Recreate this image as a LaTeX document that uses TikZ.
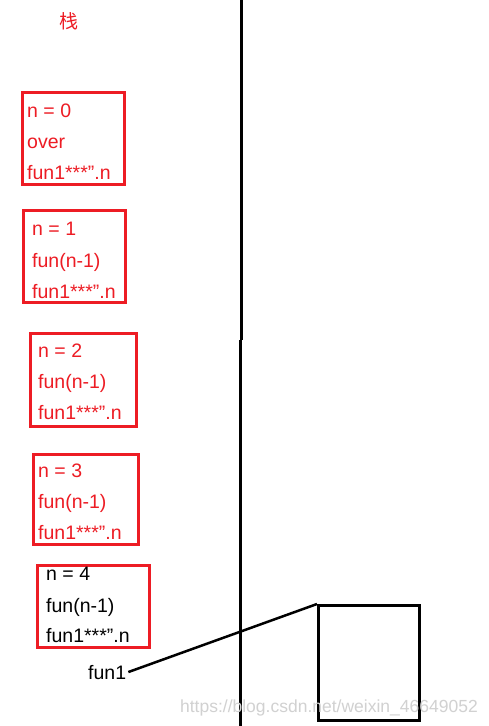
\documentclass[tikz,border=0pt]{standalone}
\usepackage{fontspec}
\setmainfont{Liberation Sans}
\newfontfamily\cjk{Noto Sans CJK SC}
\definecolor{pred}{HTML}{ED1C24}
\newcommand{\qq}{\symbol{"22}}
\begin{document}
\begin{tikzpicture}[x=1pt,y=-1pt,
  rbox/.style={draw=pred, line width=3pt, inner sep=0pt},
  txt/.style={anchor=base west, inner sep=0pt, font=\fontsize{19.5}{23}\selectfont},
  redtxt/.style={txt, text=pred},
  blk/.style={draw=black, line width=3pt}]
\useasboundingbox[fill=white] (0,0) rectangle (488,726);
% title
\node[text=pred, font=\cjk\fontsize{19}{22}\selectfont, inner sep=0pt] (title) at (69,21) {栈};
% vertical divider
\coordinate (v1) at (241.5,0);
\coordinate (v2) at (241.5,340);
\coordinate (v3) at (240.5,340);
\coordinate (v4) at (240.5,726);
\draw[line width=2.5pt] (v1) -- (v2);
\draw[line width=2.5pt] (v3) -- (v4);
% box 0
\node[rbox, minimum width=102pt, minimum height=92pt] (b0) at (73.5,138.5) {};
\node[redtxt] (t00) at (27,117) {n = 0};
\node[redtxt] (t01) at (27,148) {over};
\node[redtxt] (t02) at (27,179) {fun1***\qq.n};
% box 1
\node[rbox, minimum width=102pt, minimum height=92pt] (b1) at (74.5,256.5) {};
\node[redtxt] (t10) at (32,235) {n = 1};
\node[redtxt] (t11) at (32,267) {fun(n-1)};
\node[redtxt] (t12) at (32,298) {fun1***\qq.n};
% box 2
\node[rbox, minimum width=106pt, minimum height=93pt] (b2) at (83.5,380) {};
\node[redtxt] (t20) at (38,357) {n = 2};
\node[redtxt] (t21) at (38,388) {fun(n-1)};
\node[redtxt] (t22) at (38,419) {fun1***\qq.n};
% box 3
\node[rbox, minimum width=105pt, minimum height=90pt] (b3) at (86,499) {};
\node[redtxt] (t30) at (38,477) {n = 3};
\node[redtxt] (t31) at (38,508) {fun(n-1)};
\node[redtxt] (t32) at (38,539) {fun1***\qq.n};
% box 4
\node[rbox, minimum width=112pt, minimum height=82pt] (b4) at (93.5,606) {};
\node[txt] (t40) at (46,580) {n = 4};
\node[txt] (t41) at (46,612) {fun(n-1)};
\node[txt] (t42) at (46,642) {fun1***\qq.n};
% right box
\node[blk, minimum width=101pt, minimum height=115pt, inner sep=0pt] (rb) at (369,663) {};
% fun1 label and connector
\node[txt] (f1) at (88,679) {fun1};
\draw[line width=2.5pt] ([xshift=2pt]f1.east) -- (rb.north west);
% watermark
\node[anchor=base east, inner sep=0pt, text=black!18, font=\fontsize{17.5}{20}\selectfont] (wm) at (478,712) {https://blog.csdn.net/weixin\_46649052};
\end{tikzpicture}
\end{document}
